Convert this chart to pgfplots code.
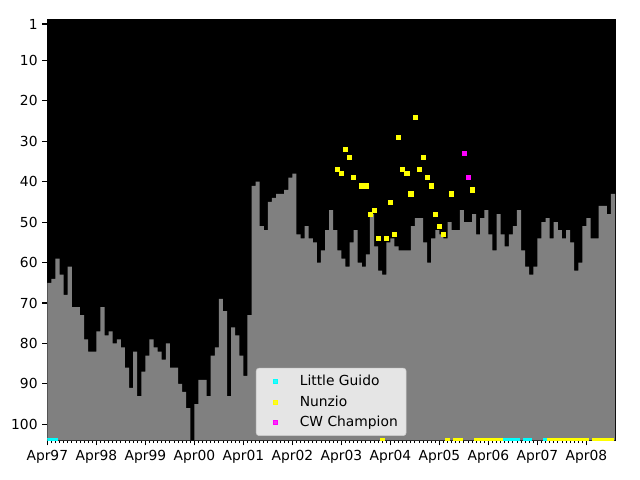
\documentclass[border=0pt]{standalone}
\usepackage{fontspec}
\setmainfont{DejaVu Sans}
\usepackage{pgfplots}
\pgfplotsset{compat=1.18}
\usepgfplotslibrary{fillbetween}
\usepackage{pgfplotstable}
\definecolor{legedge}{RGB}{204,204,204}
\definecolor{mcyan}{RGB}{0,255,255}
\definecolor{myellow}{RGB}{255,255,0}
\definecolor{mmagenta}{RGB}{255,0,255}
\definecolor{mgray}{RGB}{128,128,128}

\pgfplotstableread{
m v
0 65
1 64
2 59
3 63
4 68
5 61
6 71
7 71
8 73
9 79
10 82
11 82
12 77
13 71
14 78
15 77
16 80
17 79
18 81
19 86
20 91
21 82
22 93
23 87
24 83
25 79
26 81
27 82
28 84
29 80
30 86
31 86
32 90
33 92
34 96
35 104
36 95
37 89
38 89
39 93
40 83
41 81
42 69
43 72
44 93
45 76
46 78
47 83
48 88
49 73
50 41
51 40
52 51
53 52
54 45
55 44
56 43
57 43
58 42
59 39
60 38
61 53
62 54
63 51
64 54
65 55
66 60
67 57
68 52
69 47
70 52
71 57
72 59
73 61
74 55
75 52
76 60
77 61
78 58
79 48
80 56
81 62
82 63
83 55
84 54
85 56
86 57
87 57
88 57
89 51
90 49
91 49
92 55
93 60
94 54
95 52
96 53
97 54
98 50
99 52
100 52
101 47
102 50
103 50
104 48
105 53
106 49
107 47
108 53
109 57
110 48
111 53
112 56
113 53
114 51
115 47
116 57
117 61
118 63
119 61
120 54
121 50
122 49
123 54
124 50
125 52
126 54
127 52
128 55
129 62
130 60
131 51
132 49
133 54
134 54
135 46
136 46
137 48
138 43
139 43
}\rankdata

\begin{document}
\begin{tikzpicture}
\begin{axis}[
  scale only axis,
  width=5.677in, height=4.205in,
  xmin=0, xmax=139, ymin=0, ymax=104,
  y dir=reverse,
  axis background/.style={fill=black},
  axis line style={line width=0.8pt},
  xtick={0,12,24,36,48,60,72,84,96,108,120,132},
  xticklabels={Apr97,Apr98,Apr99,Apr00,Apr01,Apr02,Apr03,Apr04,Apr05,Apr06,Apr07,Apr08},
  minor x tick num=11,
  ytick={1,10,20,30,40,50,60,70,80,90,100},
  tick align=outside, tick pos=left,
  major tick length=3.5pt, minor tick length=2pt,
  major tick style={black, line width=0.8pt},
  minor tick style={black, line width=0.6pt},
  clip marker paths=true,
  /pgf/number format/assume math mode=true,
  ticklabel style={font=\fontsize{10}{12}\selectfont},
  legend cell align=left,
  legend image code/.code={%
    \path[draw=none,fill=none] (0pt,-2pt) rectangle (20pt,2pt);
    \path[#1,draw=none] plot coordinates {(10pt,0pt)};},
  legend style={at={(0.5,0.011)}, anchor=south,
    fill=white, fill opacity=0.8, text opacity=1, draw=legedge,
    rounded corners=2pt, font=\fontsize{10}{12}\selectfont,
    row sep=1.9pt, column sep=5.5pt, inner xsep=4pt, inner ysep=2.8pt},
]
\addplot[name path=rank, draw=none, const plot mark left, forget plot] table[x=m,y=v]{\rankdata};
\addplot[name path=base, draw=none, forget plot] coordinates {(0,104) (139,104)};
\addplot[fill=mgray, draw=none, forget plot] fill between[of=rank and base];

\addplot[only marks, mark=square*, mark size=1.5pt, color=mcyan] coordinates {
(0,104)(1,104)(2,104)(112,104)(113,104)(114,104)(115,104)(117,104)(118,104)(122,104)};
\addlegendentry{Little Guido}

\addplot[only marks, mark=square*, mark size=1.5pt, color=myellow] coordinates {
(71,37)(72,38)(73,32)(74,34)(75,39)(77,41)(78,41)(79,48)(80,47)(81,54)(83,54)(84,45)(85,53)
(86,29)(87,37)(88,38)(89,43)(90,24)(91,37)(92,34)(93,39)(94,41)(95,48)(96,51)(97,53)(99,43)(104,42)
(82,104)(98,104)(100,104)(101,104)
(105,104)(106,104)(107,104)(108,104)(109,104)(110,104)(111,104)
(123,104)(124,104)(125,104)(126,104)(127,104)(128,104)(129,104)(130,104)(131,104)(132,104)
(134,104)(135,104)(136,104)(137,104)(138,104)};
\addlegendentry{Nunzio}

\addplot[only marks, mark=square*, mark size=1.5pt, color=mmagenta] coordinates {(102,33)(103,39)};
\addlegendentry{CW Champion}
\end{axis}
\path ([shift={(-0.4733in,-0.395in)}]current axis.south west) rectangle ([shift={(0.25in,0.2in)}]current axis.north east);
\end{tikzpicture}
\end{document}
